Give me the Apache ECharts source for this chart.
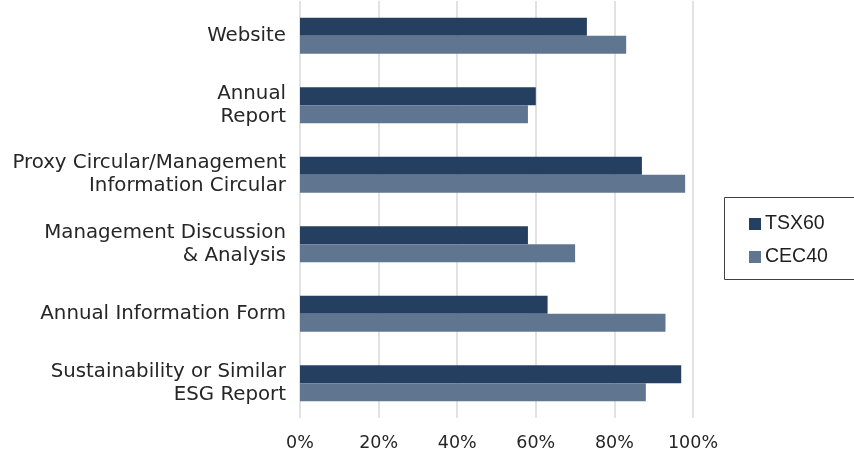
<!DOCTYPE html>
<html>
<head>
<meta charset="utf-8">
<script src="https://cdn.jsdelivr.net/npm/echarts@6/dist/echarts.min.js"></script>
<style>html,body{margin:0;padding:0;background:#fff}#c{width:854px;height:453px}</style>
</head>
<body>
<div id="c"></div>
<script>
const categories = ['Website', 'Annual\nReport', 'Proxy Circular/Management\nInformation Circular', 'Management Discussion\n& Analysis', 'Annual Information Form', 'Sustainability or Similar\nESG Report'];
const tsx60 = [73, 60, 87, 58, 63, 97];
const cec40 = [83, 58, 98, 70, 93, 88];
const xTicks = [0, 20, 40, 60, 80, 100];

const chart = echarts.init(document.getElementById('c'), null, {renderer: 'canvas'});
chart.setOption({
  animation: false,
  grid: {left: 300, right: 161, top: 1, bottom: 35, containLabel: false},
  graphic: [{
    type: 'rect', left: 724, top: 197, z: -1,
    shape: {width: 150, height: 82},
    style: {fill: '#fff', stroke: '#404040', lineWidth: 1}
  }],
  legend: {
    orient: 'vertical', left: 749, top: 214,
    padding: 0,
    itemWidth: 12, itemHeight: 12, itemGap: 13,
    icon: 'rect',
    textStyle: {fontFamily: 'Liberation Sans', fontSize: 19.5, color: '#1f1f1f', padding: [0, 0, 0, -1]},
    data: ['TSX60', 'CEC40']
  },
  xAxis: {
    type: 'value', min: 0, max: 100, interval: 20,
    axisLine: {show: false}, axisTick: {show: false},
    splitLine: {lineStyle: {color: '#d9d9d9', width: 1.5}},
    axisLabel: {formatter: v => xTicks.includes(v) ? v + '%' : '', fontFamily: 'DejaVu Sans', fontSize: 17.5, color: '#262626', margin: 16}
  },
  yAxis: {
    type: 'category', data: categories, inverse: true,
    axisLine: {show: false}, axisTick: {show: false},
    axisLabel: {fontFamily: 'DejaVu Sans', fontSize: 19.8, color: '#262626', lineHeight: 23, margin: 14, align: 'right'}
  },
  series: [
    {name: 'TSX60', type: 'bar', data: tsx60, barGap: '0%', barCategoryGap: '48%', itemStyle: {color: '#243F60'}},
    {name: 'CEC40', type: 'bar', data: cec40, barGap: '0%', barCategoryGap: '48%', itemStyle: {color: '#5F7590'}}
  ]
});
</script>
</body>
</html>
